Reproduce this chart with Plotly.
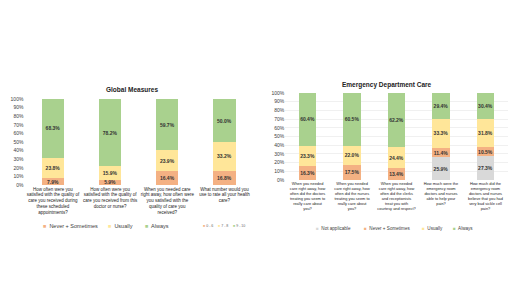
import plotly.graph_objects as go

W, H = 520, 292

# ---------------- data ----------------
left_questions = [
    "How often were you<br>satisfied with the quality of<br>care you received during<br>these scheduled<br>appointments?",
    "How often were you<br>satisfied with the quality of<br>care you received from this<br>doctor or nurse?",
    "When you needed care<br>right away, how often were<br>you satisfied with the<br>quality of care you<br>received?",
    "What number would you<br>use to rate all your health<br>care?",
]
left_never = [7.9, 5.9, 16.4, 16.8]
left_usually = [23.8, 15.9, 23.9, 33.2]
left_always = [68.3, 78.2, 59.7, 50.0]

right_questions = [
    "When you needed<br>care right away, how<br>often did the doctors<br>treating you seem to<br>really care about<br>you?",
    "When you needed<br>care right away, how<br>often did the nurses<br>treating you seem to<br>really care about<br>you?",
    "When you needed<br>care right away, how<br>often did the clerks<br>and receptionists<br>treat you with<br>courtesy and respect?",
    "How much were the<br>emergency room<br>doctors and nurses<br>able to help your<br>pain?",
    "How much did the<br>emergency room<br>doctors and nurses<br>believe that you had<br>very bad sickle cell<br>pain?",
]
right_na = [None, None, None, 25.9, 27.3]
right_never = [16.3, 17.5, 13.4, 11.4, 10.5]
right_usually = [23.3, 22.0, 24.4, 33.3, 31.8]
right_always = [60.4, 60.5, 62.2, 29.4, 30.4]

left_series = ["Never + Sometimes", "Usually", "Always"]
right_series = ["Not applicable", "Never + Sometimes", "Usually", "Always"]
rating_labels = ["0 - 6", "7 - 8", "9 - 10"]
y_ticks = list(range(0, 101, 10))
y_ticktext = [f"{v}%" for v in y_ticks]

C_NA = "#D9D9D9"
C_NEVER = "#F4B183"
C_USUAL = "#FFE699"
C_ALWAYS = "#A9D18E"
FONT = "Liberation Sans"
TXT = "#404040"
OFF = 8  # page body margin

fig = go.Figure()

def add_bars(x, vals, name, color, xa, ya):
    fig.add_trace(go.Bar(
        x=x, y=vals, name=name, marker=dict(color=color, line=dict(width=0)),
        xaxis=xa, yaxis=ya, showlegend=False,
        texttemplate="<b>%{y:.1f}%</b>", textposition="inside", textangle=0,
        insidetextanchor="middle", constraintext="none",
        textfont=dict(size=5, color="#333333", family=FONT),
        hoverinfo="skip",
    ))

add_bars(left_questions, left_never, left_series[0], C_NEVER, "x", "y")
add_bars(left_questions, left_usually, left_series[1], C_USUAL, "x", "y")
add_bars(left_questions, left_always, left_series[2], C_ALWAYS, "x", "y")

add_bars(right_questions, right_na, right_series[0], C_NA, "x2", "y2")
add_bars(right_questions, right_never, right_series[1], C_NEVER, "x2", "y2")
add_bars(right_questions, right_usually, right_series[2], C_USUAL, "x2", "y2")
add_bars(right_questions, right_always, right_series[3], C_ALWAYS, "x2", "y2")

def px(x):
    return (x - OFF) / W

def py(y):
    return 1 - (y - OFF) / H

yax_common = dict(range=[0, 100], tickvals=y_ticks, ticktext=y_ticktext,
                  tickfont=dict(size=5, color=TXT, family=FONT),
                  showline=False, zeroline=False, fixedrange=True,
                  ticks="", automargin=False)
xax_common = dict(showline=False, ticks="", fixedrange=True, automargin=False,
                  tickfont=dict(size=4.5, color="#222222", family=FONT),
                  tickangle=0)

fig.update_layout(
    width=W, height=H,
    margin=dict(l=0, r=0, t=0, b=0),
    paper_bgcolor="white", plot_bgcolor="white",
    barmode="stack", bargap=0.61,
    showlegend=False,
    xaxis=dict(domain=[px(24.4), px(253)], anchor="y", **xax_common),
    yaxis=dict(domain=[py(185), py(99)], anchor="x", showgrid=False, **yax_common),
    xaxis2=dict(domain=[px(285.3), px(507.7)], anchor="y2", **{**xax_common, "tickfont": dict(size=3.9, color="#222222", family=FONT)}),
    yaxis2=dict(domain=[py(180), py(93)], anchor="x2", showgrid=True, gridcolor="#F0F0F0", gridwidth=0.5, **yax_common),
)

ann = []
ann.append(dict(text="<b>Global Measures</b>", x=px(132), y=py(89), xref="paper", yref="paper",
                xanchor="center", yanchor="middle",
                showarrow=False, font=dict(size=6.5, color="#222222", family=FONT)))
ann.append(dict(text="<b>Emergency Department Care</b>", x=px(387), y=py(85), xref="paper", yref="paper",
                xanchor="center", yanchor="middle",
                showarrow=False, font=dict(size=6.5, color="#222222", family=FONT)))

def sq(c):
    return f"<span style='color:{c}'>■</span>"

# left legend
for label, color, xx in [(left_series[0], C_NEVER, 41), (left_series[1], C_USUAL, 106), (left_series[2], C_ALWAYS, 143)]:
    ann.append(dict(text=f"{sq(color)}  {label}", x=px(xx), y=py(226), xref="paper", yref="paper",
                    xanchor="left", yanchor="middle", showarrow=False,
                    font=dict(size=5.5, color=TXT, family=FONT)))
for label, color, xx in [(rating_labels[0], C_NEVER, 201), (rating_labels[1], C_USUAL, 216), (rating_labels[2], C_ALWAYS, 231)]:
    ann.append(dict(text=f"{sq(color)} {label}", x=px(xx), y=py(226), xref="paper", yref="paper",
                    xanchor="left", yanchor="middle", showarrow=False,
                    font=dict(size=3.6, color="#666666", family=FONT)))
# right legend
for label, color, xx in [(right_series[0], C_NA, 314), (right_series[1], C_NEVER, 362), (right_series[2], C_USUAL, 420), (right_series[3], C_ALWAYS, 451)]:
    ann.append(dict(text=f"{sq(color)}  {label}", x=px(xx), y=py(228), xref="paper", yref="paper",
                    xanchor="left", yanchor="middle", showarrow=False,
                    font=dict(size=4.6, color=TXT, family=FONT)))

fig.update_layout(annotations=ann)
fig.write_html("out.html")
